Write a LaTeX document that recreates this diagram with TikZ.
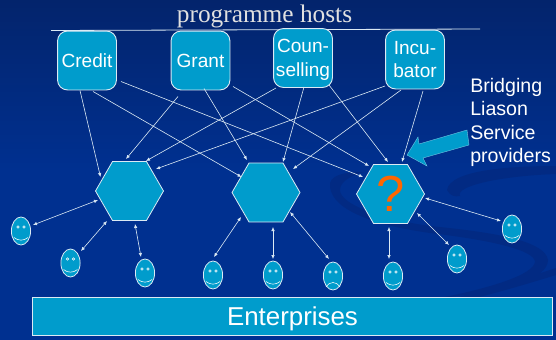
\documentclass[tikz,border=0pt]{standalone}
\usepackage{fontspec}
\setmainfont{Liberation Sans}
\newfontfamily\titlefont{Liberation Serif}
\usetikzlibrary{arrows.meta,calc,shapes.geometric}
\definecolor{tealbox}{HTML}{009CCC}
\definecolor{edgecol}{HTML}{DCEAF4}
\definecolor{bgtop}{HTML}{03246C}
\definecolor{bgmid}{HTML}{003090}
\definecolor{swirl}{HTML}{022A83}
\definecolor{qmark}{HTML}{FF6600}
\tikzset{
  hostbox/.style={draw=edgecol,line width=0.7pt,fill=tealbox,rounded corners=7.5pt,
    minimum width=44.2pt,minimum height=44.2pt,inner sep=0pt,align=center,text=white,font=\fontsize{14.3}{17.6}\selectfont},
  hexa/.style={regular polygon,regular polygon sides=6,draw=edgecol,line width=0.6pt,fill=tealbox,minimum size=51pt,inner sep=0pt},
  smiley/.style={ellipse,draw=edgecol,line width=0.6pt,fill=tealbox,minimum width=14.4pt,minimum height=21pt,inner sep=0pt},
  link/.style={draw=edgecol,line width=0.45pt,-{Latex[length=3pt,width=2.6pt]}},
  dlink/.style={draw=edgecol,line width=0.45pt,{Latex[length=3pt,width=2.6pt]}-{Latex[length=3pt,width=2.6pt]}},
  facepart/.style={draw=white,line width=0.4pt},
  swirlband/.style={fill=swirl},
}
\newcommand{\faceeyes}[1]{%
  \draw[facepart] ($(#1)+(-3,-4)$) circle[radius=1.2];
  \draw[facepart] ($(#1)+(3,-4)$) circle[radius=1.2];
}
\newcommand{\happy}[1]{\faceeyes{#1}%
  \draw[facepart] ($(#1)+(-7,6.5)$) .. controls ($(#1)+(-3,10)$) and ($(#1)+(3,10)$) .. ($(#1)+(7,6.5)$);}
\newcommand{\sad}[1]{\faceeyes{#1}%
  \draw[facepart] ($(#1)+(-7,11)$) .. controls ($(#1)+(-3,5)$) and ($(#1)+(3,5)$) .. ($(#1)+(7,11)$);}
\begin{document}
\begin{tikzpicture}[x=0.75pt,y=-0.75pt]
\useasboundingbox (0,0) rectangle (556,339);
\begin{scope}
  \clip (0,0) rectangle (556,339);
  \shade[top color=bgtop,bottom color=bgmid,middle color=bgmid] (0,0) rectangle (556,339);
  % background swirl
  \path[swirlband] (363,172) .. controls (345,172) and (328,175) .. (330,187)
     .. controls (333,212) and (380,226) .. (430,233)
     .. controls (490,240) and (535,250) .. (535,262)
     .. controls (533,275) and (490,288) .. (440,298)
     .. controls (500,292) and (548,280) .. (548,260)
     .. controls (545,240) and (490,232) .. (430,226)
     .. controls (385,220) and (340,205) .. (340,190)
     .. controls (340,182) and (350,176) .. (363,172) -- cycle;
  \path[swirlband] (556,268) .. controls (520,280) and (490,288) .. (455,298)
     -- (475,298) .. controls (500,292) and (530,283) .. (556,275) -- cycle;
  \path[swirlband] (556,166) .. controls (510,166) and (450,170) .. (447,190)
     .. controls (450,196) and (455,197) .. (460,196)
     .. controls (455,186) and (500,176) .. (556,174) -- cycle;
\end{scope}

\draw[edgecol,line width=0.6pt] (51,30.5) -- (480,29);
\node[font=\titlefont\fontsize{19}{22}\selectfont,text=white!88!black] (title) at (264.5,16) {programme hosts};

\node[hostbox] (credit) at (87,60.5) {Credit};
\node[hostbox] (grant) at (200.5,60.5) {Grant};
\node[hostbox] (couns) at (303,58) {Coun-\\\smash{selling}};
\node[hostbox] (incub) at (415,59.5) {Incu-\\bator};

\node[hexa] (h1) at (129.5,191) {};
\node[hexa] (h2) at (266,192.5) {};
\node[hexa,font=\fontsize{38}{38}\selectfont,text=qmark] (h3) at (390.5,194) {?};

\node[smiley] (s1) at (21,231) {};
\node[smiley] (s2) at (70.5,263) {};
\node[smiley] (s3) at (145,273) {};
\node[smiley] (s4) at (213,275) {};
\node[smiley] (s5) at (273,275) {};
\node[smiley] (s6) at (333,276) {};
\node[smiley] (s7) at (393,276) {};
\node[smiley] (s8) at (457,259) {};
\node[smiley] (s9) at (512,229) {};
\happy{s1}\happy{s2}\happy{s3}\happy{s4}\happy{s5}\sad{s6}\happy{s7}\happy{s8}\happy{s9}

\node[draw=edgecol,line width=0.7pt,fill=tealbox,minimum width=390pt,minimum height=28.5pt,inner sep=0pt,
  text=white,text height=14pt,text depth=0pt,font=\fontsize{19.4}{22}\selectfont] (ent) at (292.5,316) {Enterprises};

% programme hosts to service providers
\draw[link] ($(credit)+(-7,30)$) -- ($(h1)+(-29,-14)$);
\draw[link] ($(credit)+(6,31)$) -- ($(h2)+(-24.5,-15.5)$);
\draw[link] ($(credit)+(34,21)$) -- ($(h3)+(-27.5,-17)$);
\draw[link] ($(grant)+(-22.5,36)$) -- ($(h1)+(-3.5,-32)$);
\draw[link] ($(grant)+(3.5,28)$) -- ($(h2)+(-19,-32.5)$);
\draw[link] ($(grant)+(32.5,26)$) -- ($(h3)+(-21.5,-28)$);
\draw[link] ($(couns)+(-27,30)$) -- ($(h1)+(16.5,-30)$);
\draw[link] ($(couns)+(1,29)$) -- ($(h2)+(17,-30.5)$);
\draw[link] ($(couns)+(26,27)$) -- ($(h3)+(-2.5,-32)$);
\draw[link] ($(incub)+(-30,26.5)$) -- ($(h1)+(26.5,-22)$);
\draw[link] ($(incub)+(-14,30.5)$) -- ($(h2)+(27,-23.5)$);
\draw[link] ($(incub)+(8,31.5)$) -- ($(h3)+(11.5,-32)$);

% service providers to enterprises
\draw[dlink] ($(h1)+(-31.5,9)$) -- ($(s1)+(12,-6)$);
\draw[dlink] ($(h1)+(-22.5,30)$) -- ($(s2)+(10.5,-12)$);
\draw[dlink] ($(h1)+(5.5,33)$) -- ($(s3)+(-4,-16)$);
\draw[dlink] ($(h2)+(-25,24.5)$) -- ($(s4)+(1,-18)$);
\draw[dlink] ($(h2)+(7,34.5)$) -- ($(s5)+(0,-16)$);
\draw[dlink] ($(h2)+(24,19.5)$) -- ($(s6)+(-4,-17)$);
\draw[dlink] ($(h3)+(-1.5,33)$) -- ($(s7)+(-4,-17)$);
\draw[dlink] ($(h3)+(26.5,19)$) -- ($(s8)+(-8,-14)$);
\draw[dlink] ($(h3)+(34.5,4)$) -- ($(s9)+(-11,-8)$);

% bridging label and block arrow
\node[anchor=north west,align=left,text=white,inner sep=0pt,font=\fontsize{14.7}{17.6}\selectfont] (bridge) at (470,78) {Bridging\\Liason\\Service\\providers};
\path[fill=tealbox,draw=edgecol!50!tealbox,line width=0.3pt] (407,155) -- (418,137) -- (419,144) -- (467,130) -- (469,145) -- (423,158) -- (427,166) -- cycle;
\end{tikzpicture}
\end{document}
